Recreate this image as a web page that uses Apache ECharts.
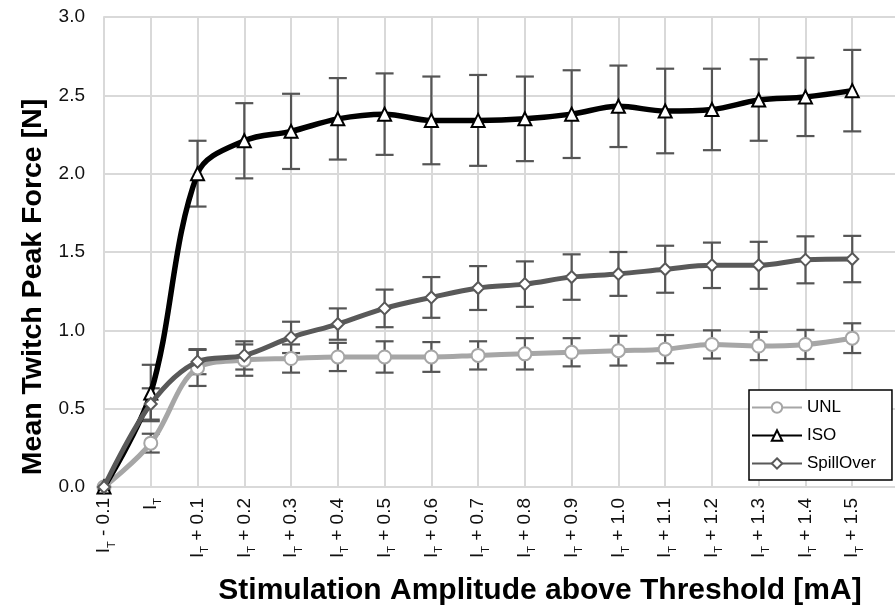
<!DOCTYPE html>
<html>
<head>
<meta charset="utf-8">
<script src="https://cdn.jsdelivr.net/npm/echarts@6/dist/echarts.min.js"></script>
<style>
html,body{margin:0;padding:0;background:#fff;}
#chart{width:895px;height:607px;}
</style>
</head>
<body>
<div id="chart"></div>
<script>
// Categories (last one is an empty slot so the grid runs to the picture's edge)
const categories = ['I_T - 0.1','I_T','I_T + 0.1','I_T + 0.2','I_T + 0.3','I_T + 0.4','I_T + 0.5','I_T + 0.6','I_T + 0.7','I_T + 0.8','I_T + 0.9','I_T + 1.0','I_T + 1.1','I_T + 1.2','I_T + 1.3','I_T + 1.4','I_T + 1.5',''];
const yTicks = [0, 0.5, 1.0, 1.5, 2.0, 2.5, 3.0];

const unl      = [0, 0.28, 0.76, 0.81, 0.82, 0.83, 0.83, 0.83, 0.84, 0.85, 0.86, 0.87, 0.88, 0.91, 0.90, 0.91, 0.95];
const unlErr   = [0, 0.06, 0.115, 0.10, 0.09, 0.09, 0.10, 0.095, 0.09, 0.10, 0.09, 0.095, 0.09, 0.09, 0.09, 0.093, 0.095];
const iso      = [0, 0.60, 2.00, 2.21, 2.27, 2.35, 2.38, 2.34, 2.34, 2.35, 2.38, 2.43, 2.40, 2.41, 2.47, 2.49, 2.53];
const isoErr   = [0, 0.18, 0.21, 0.24, 0.24, 0.26, 0.26, 0.28, 0.29, 0.27, 0.28, 0.26, 0.27, 0.26, 0.26, 0.25, 0.26];
const spill    = [0, 0.53, 0.80, 0.84, 0.955, 1.04, 1.14, 1.21, 1.27, 1.295, 1.34, 1.36, 1.39, 1.415, 1.415, 1.45, 1.455];
const spillErr = [0, 0.10, 0.08, 0.09, 0.10, 0.10, 0.12, 0.13, 0.14, 0.145, 0.145, 0.14, 0.15, 0.145, 0.15, 0.15, 0.148];

const FONT = '"Liberation Sans", Arial, sans-serif';

function errData(vals, errs) {
  return vals.map((v, i) => [i, v, errs[i]]);
}
function errSeries(vals, errs) {
  return {
    type: 'custom',
    silent: true,
    z: 3,
    data: errData(vals, errs),
    renderItem: function (params, api) {
      const i = api.value(0), v = api.value(1), e = api.value(2);
      if (!(e > 0)) return null;
      const top = api.coord([i, v + e]);
      const bot = api.coord([i, v - e]);
      const hw = 9;
      const st = { stroke: '#555555', lineWidth: 2.2 };
      return {
        type: 'group',
        children: [
          { type: 'line', shape: { x1: top[0], y1: top[1], x2: bot[0], y2: bot[1] }, style: st },
          { type: 'line', shape: { x1: top[0] - hw, y1: top[1], x2: top[0] + hw, y2: top[1] }, style: st },
          { type: 'line', shape: { x1: bot[0] - hw, y1: bot[1], x2: bot[0] + hw, y2: bot[1] }, style: st }
        ]
      };
    }
  };
}

const chart = echarts.init(document.getElementById('chart'), null, { renderer: 'canvas' });

chart.setOption({
  animation: false,
  backgroundColor: '#ffffff',
  grid: { left: 104, right: -4, top: 17, bottom: 120, outerBoundsMode: 'none', containLabel: false },
  legend: {
    orient: 'vertical',
    left: 749,
    top: 390,
    padding: [9, 16, 8, 2],
    itemGap: 11,
    itemWidth: 50,
    itemHeight: 13,
    backgroundColor: '#ffffff',
    borderColor: '#000000',
    borderWidth: 1.5,
    textStyle: { fontFamily: FONT, fontSize: 17, color: '#000' },
    data: ['UNL', 'ISO', 'SpillOver']
  },
  xAxis: {
    type: 'category',
    data: categories,
    boundaryGap: false,
    axisLine: { show: true, lineStyle: { color: '#d9d9d9', width: 2 } },
    axisTick: { show: false },
    splitLine: { show: true, lineStyle: { color: '#d9d9d9', width: 2 } },
    axisLabel: {
      interval: 0,
      rotate: 90,
      margin: 11,
      color: '#111',
      fontFamily: FONT,
      fontSize: 19,
      formatter: function (v) {
        if (!v) return '';
        const rest = v.slice(3);
        return '{i|I}{s|T}' + (rest ? '{n|' + rest + '}' : '');
      },
      rich: {
        i: { fontFamily: FONT, fontSize: 19, color: '#111', lineHeight: 26, verticalAlign: 'middle' },
        s: { fontFamily: FONT, fontSize: 11, color: '#111', verticalAlign: 'bottom', lineHeight: 26 },
        n: { fontFamily: FONT, fontSize: 19, color: '#111', lineHeight: 26, verticalAlign: 'middle' }
      }
    },
    name: 'Stimulation Amplitude above Threshold [mA]',
    nameLocation: 'middle',
    nameGap: 89,
    nameTextStyle: { fontFamily: FONT, fontSize: 30, fontWeight: 'bold', color: '#000', padding: [0, 0, 0, 77] }
  },
  yAxis: {
    type: 'value',
    min: yTicks[0],
    max: yTicks[yTicks.length - 1],
    interval: 0.5,
    axisLine: { show: true, lineStyle: { color: '#d9d9d9', width: 2 } },
    axisTick: { show: false },
    splitLine: { show: true, lineStyle: { color: '#d9d9d9', width: 2 } },
    axisLabel: {
      margin: 19,
      color: '#111',
      fontFamily: FONT,
      fontSize: 19,
      formatter: v => v.toFixed(1)
    },
    name: 'Mean Twitch Peak Force [N]',
    nameLocation: 'middle',
    nameGap: 56,
    nameTextStyle: { fontFamily: FONT, fontSize: 28.5, fontWeight: 'bold', color: '#000', padding: [0, 70, 0, 0] }
  },
  series: [
    errSeries(unl, unlErr),
    errSeries(iso, isoErr),
    errSeries(spill, spillErr),
    {
      name: 'UNL', type: 'line', data: unl, smooth: 0.35, z: 4,
      symbol: 'circle', symbolSize: 13,
      lineStyle: { color: '#a6a6a6', width: 5 },
      itemStyle: { color: '#ffffff', borderColor: '#a6a6a6', borderWidth: 2 }
    },
    {
      name: 'ISO', type: 'line', data: iso, smooth: 0.35, z: 5,
      symbol: 'triangle', symbolSize: 13,
      lineStyle: { color: '#000000', width: 5.5 },
      itemStyle: { color: '#ffffff', borderColor: '#000000', borderWidth: 2 }
    },
    {
      name: 'SpillOver', type: 'line', data: spill, smooth: 0.35, z: 6,
      symbol: 'diamond', symbolSize: 12,
      lineStyle: { color: '#595959', width: 5 },
      itemStyle: { color: '#ffffff', borderColor: '#595959', borderWidth: 2 }
    }
  ]
});
</script>
</body>
</html>
